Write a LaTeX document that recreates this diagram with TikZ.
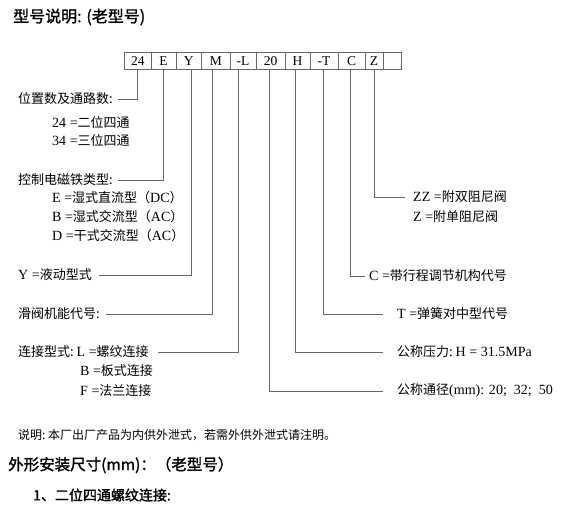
\documentclass[tikz,border=0pt]{standalone}
\usepackage{fontspec}
\setmainfont{Liberation Serif}[Scale=1.08]
\newfontfamily\cjk{Noto Sans CJK SC}
\newfontfamily\cjkbf[FakeBold=1.5]{Noto Sans CJK SC}
\newcommand{\latn}[1]{{\rmfamily #1}}

\begin{document}
\begin{tikzpicture}[x=1pt, y=-1pt,
  cell/.style={draw=black!60, line width=0.7pt, minimum height=17pt, inner sep=0pt,
               font=\fontsize{12.5}{14}\selectfont},
  lbl/.style={anchor=west, inner sep=0pt, font=\cjk\fontsize{13}{15}\selectfont},
  lead/.style={draw=black!60, line width=0.7pt},
  head/.style={anchor=west, inner sep=0pt, font=\cjkbf\fontsize{#1}{#1}\selectfont}]

  \useasboundingbox (0,0) rectangle (570,509);

  \node[head=16] (title) at (13,17) {型号说明: (老型号)};

  % code cells
  \foreach \n/\t/\a/\b/\d in {c24/24/124.5/151/0, cE/E/151/176/0, cY/Y/176/201.5/3,
      cM/M/201.5/230/-3, cL/-L/230/256/-5, c20/20/256/285/-1, cH/H/285/310/-2,
      cT/-T/310/338/-1, cC/C/338/365/-1.5, cZ/Z/365/383/0, cX//383/401/0}
    {\node[cell, minimum width={(\b-\a)*1pt}] (\n) at ({(\a+\b)/2},61) {\t};
     \coordinate (\n-tap) at ([xshift=\d]\n.south);}

  % left side
  \node[lbl] (n24) at (18,99) {位置数及通路数:};
  \node[lbl] (n24a) at (52,122) {\latn{24 =}二位四通};
  \node[lbl] (n24b) at (52,140) {\latn{34 =}三位四通};

  \node[lbl] (nE) at (18,180) {控制电磁铁类型:};
  \node[lbl] (nEa) at (52,198) {\latn{E =}湿式直流型（\latn{DC}）};
  \node[lbl] (nEb) at (52,217) {\latn{B =}湿式交流型（\latn{AC}）};
  \node[lbl] (nEc) at (52,236) {\latn{D =}干式交流型（\latn{AC}）};

  \node[lbl] (nY) at (18,275) {\latn{Y =}液动型式};
  \node[lbl] (nM) at (18,314) {滑阀机能代号:};

  \node[lbl] (nL) at (18,352) {连接型式:\ \latn{L =}螺纹连接};
  \node[lbl] (nLb) at (80,371) {\latn{B =}板式连接};
  \node[lbl] (nLc) at (80,391) {\latn{F =}法兰连接};

  % right side
  \node[lbl] (nZ) at (413,197) {\latn{ZZ =}附双阻尼阀};
  \node[lbl] (nZb) at (413,217) {\latn{Z =}附单阻尼阀};
  \node[lbl] (nC) at (369,276) {\latn{C =}带行程调节机构代号};
  \node[lbl] (nT) at (397,314) {\latn{T =}弹簧对中型代号};
  \node[lbl] (nH) at (397,352) {公称压力:\ \latn{H = 31.5MPa}};
  \node[lbl] (n20) at (397,391) {公称通径\latn{(mm): 20;\ \ 32;\ \ 50}};

  \draw[lead] (c24-tap) |- ([xshift=5]n24.east);
  \draw[lead] (cE-tap) |- ([xshift=5]nE.east);
  \draw[lead] (cY-tap) |- ([xshift=7]nY.east);
  \draw[lead] (cM-tap) |- ([xshift=6]nM.east);
  \draw[lead] (cL-tap) |- ([xshift=9]nL.east);
  \draw[lead] (c20-tap) |- ([xshift=-14]n20.west);
  \draw[lead] (cH-tap) |- ([xshift=-14]nH.west);
  \draw[lead] (cT-tap) |- ([xshift=-14]nT.west);
  \draw[lead] (cC-tap) |- ([xshift=-4]nC.west);
  \draw[lead] (cZ-tap) |- ([xshift=-8]nZ.west);

  \node[lbl, font=\cjk\fontsize{12}{14}\selectfont] (note) at (18,435)
    {说明:\ 本厂出厂产品为内供外泄式，若需外供外泄式请注明。};
  \node[head=15.5] (sub) at (8,465) {外形安装尺寸(mm)：（老型号）};
  \node[head=14] (item) at (33,495) {1、二位四通螺纹连接:};
\end{tikzpicture}
\end{document}
